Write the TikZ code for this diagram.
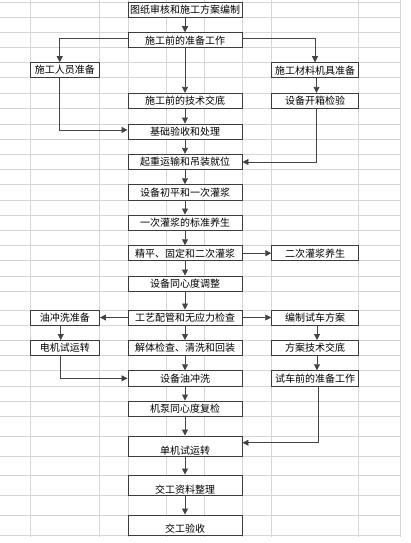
\documentclass[tikz,border=0pt]{standalone}
\usepackage{fontspec}
\newfontfamily\cjk{Noto Sans CJK SC}
\usetikzlibrary{arrows.meta}
\definecolor{gridc}{HTML}{D6D6D6}
\definecolor{boxc}{HTML}{3C3C3C}
\definecolor{linec}{HTML}{444444}
\begin{document}
\begin{tikzpicture}[x=1pt,y=-1pt,
    cell/.style={draw=boxc, line width=0.9pt, fill=white, inner sep=0pt,
      text=black, font=\cjk\fontsize{10}{10}\selectfont},
    mid/.style={cell, minimum width=114pt},
    lft/.style={cell, minimum width=69.5pt},
    rgt/.style={cell, minimum width=86.6pt},
    row/.style={minimum height=#1pt},
    low/.style={text height=#1pt-2.5pt, text depth=2.5pt, minimum height=#1pt},
    flow/.style={draw=linec, line width=0.8pt, -{Triangle[length=6pt,width=6pt]}}]
  \useasboundingbox (0,0) rectangle (410,543);
  % spreadsheet grid
  \foreach \y in {2.7,17.3,32.7,47.7,62.7,77.7,93.3,108.3,124,139.3,154.3,169.7,
      184.7,200,215,230.3,245.7,260.7,276,291,310,325,340.5,355.7,370.7,386,401,
      416.7,436,456.7,475,495.7,515,535}
    \draw[gridc, line width=0.9pt] (0,\y) -- (400,\y);
  \foreach \x in {30,99.5,128,166,204,242,271.7,358.3,400}
    \draw[gridc, line width=0.9pt] (\x,0) -- (\x,537);
  % boxes
  \node[mid, row=14.6] (tz) at (185,10) {图纸审核和施工方案编制};
  \node[mid, row=15] (zb) at (185,40.2) {施工前的准备工作};
  \node[lft, row=15] (ry) at (64.75,70.2) {施工人员准备};
  \node[rgt, row=15] (cl) at (315,70.2) {施工材料机具准备};
  \node[mid, row=15] (jd) at (185,100.8) {施工前的技术交底};
  \node[rgt, row=15] (kx) at (315,100.8) {设备开箱检验};
  \node[mid, row=15.3] (jc) at (185,131.65) {基础验收和处理};
  \node[mid, row=15.4] (qz) at (185,162) {起重运输和吊装就位};
  \node[mid, row=15.3] (cp) at (185,192.35) {设备初平和一次灌浆};
  \node[mid, row=15.3] (ys) at (185,222.65) {一次灌浆的标准养生};
  \node[mid, row=15] (jp) at (185,253.2) {精平、固定和二次灌浆};
  \node[rgt, row=15] (ec) at (315,253.2) {二次灌浆养生};
  \node[mid, row=15] (tx) at (185,283.5) {设备同心度调整};
  \node[mid, row=15] (gy) at (185,317.5) {工艺配管和无应力检查};
  \node[lft, row=15] (yz) at (64.75,317.5) {油冲洗准备};
  \node[rgt, row=15] (bz) at (315,317.5) {编制试车方案};
  \node[mid, row=15.2] (jt) at (185,348.1) {解体检查、清洗和回装};
  \node[lft, row=15.2] (dj) at (64.75,348.1) {电机试运转};
  \node[rgt, row=15.2] (fa) at (315,348.1) {方案技术交底};
  \node[mid, row=15.3] (yc) at (185,378.35) {设备油冲洗};
  \node[rgt, row=15.3] (sq) at (315,378.35) {试车前的准备工作};
  \node[mid, row=15.7] (fj) at (185,408.85) {机泵同心度复检};
  \node[mid, low=20.7] (dy) at (185,446.35) {单机试运转};
  \node[mid, low=20.7] (zl) at (185,485.35) {交工资料整理};
  \node[mid, low=20] (ys2) at (185,525) {交工验收};
  % connectors
  \draw[flow] (tz) -- (zb);
  \draw[flow] ([yshift=2pt]zb.west) -| ([xshift=-5pt]ry.north);
  \draw[flow] ([yshift=2pt]zb.east) -| (cl.north);
  \draw[flow] (zb) -- (jd);
  \draw[flow] (jd) -- (jc);
  \draw[flow] ([xshift=-5pt]ry.south) |- ([yshift=1.7pt]jc.west);
  \draw[flow] ([xshift=1.5pt]cl.south) -- ([xshift=1.5pt]kx.north);
  \draw[flow] ([xshift=1.5pt]kx.south) |- (qz.east);
  \draw[flow] (jc) -- (qz);
  \draw[flow] (qz) -- (cp);
  \draw[flow] (cp) -- (ys);
  \draw[flow] (ys) -- (jp);
  \draw[flow] (jp) -- (ec);
  \draw[flow] (jp) -- (tx);
  \draw[flow] (tx) -- (gy);
  \draw[flow] (gy) -- (yz);
  \draw[flow] (gy) -- (bz);
  \draw[flow] (gy) -- (jt);
  \draw[flow] ([xshift=-4pt]yz.south) -- ([xshift=-4pt]dj.north);
  \draw[flow] ([xshift=2pt]bz.south) -- ([xshift=2pt]fa.north);
  \draw[flow] (jt) -- (yc);
  \draw[flow] ([xshift=-4pt]dj.south) |- (yc.west);
  \draw[flow] ([xshift=2pt]fa.south) -- ([xshift=2pt]sq.north);
  \draw[flow] (yc) -- (fj);
  \draw[flow] (fj) -- (dy);
  \draw[flow] ([xshift=3pt]sq.south) |- ([yshift=3.6pt]dy.east);
  \draw[flow] (dy) -- (zl);
  \draw[flow] (zl) -- (ys2);
\end{tikzpicture}
\end{document}
